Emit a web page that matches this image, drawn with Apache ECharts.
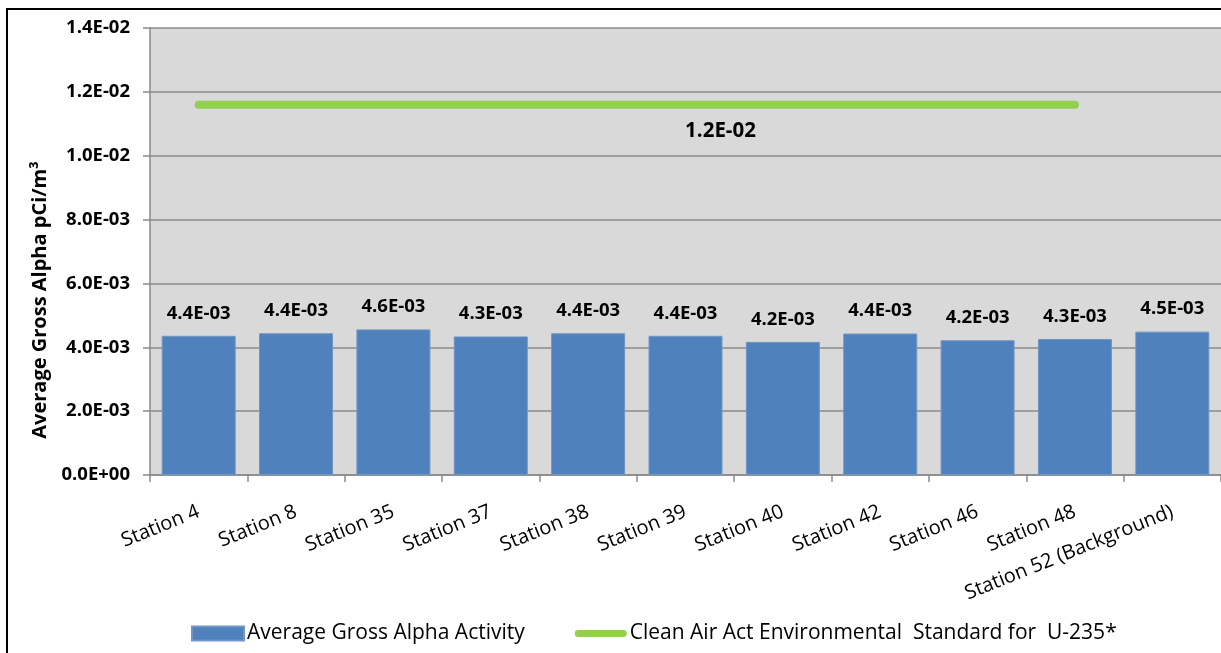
<!DOCTYPE html>
<html>
<head>
<meta charset="utf-8">
<script src="https://cdn.jsdelivr.net/npm/echarts@6/dist/echarts.min.js"></script>
<style>
html,body{margin:0;padding:0;background:#fff;}
#chart{width:1221px;height:653px;}
</style>
</head>
<body>
<div id="chart"></div>
<script>
var categories = ["Station 4","Station 8","Station 35","Station 37","Station 38","Station 39","Station 40","Station 42","Station 46","Station 48","Station 52 (Background)"];
var grossAlpha = [0.00436,0.00444,0.00456,0.00434,0.00444,0.00436,0.00417,0.00443,0.00422,0.00426,0.00449];
var cleanAirStd = [0.0116,0.0116,0.0116,0.0116,0.0116,0.0116,0.0116,0.0116,0.0116,0.0116,null];
var stdLabelText = "1.2E-02";
var seriesNames = ["Average Gross Alpha Activity","Clean Air Act Environmental  Standard for  U-235*"];
var yTitle = "Average Gross Alpha pCi/m\u00B3";

function fmt(v){
  var s = Number(v).toExponential(1);
  var parts = s.split('e');
  var sign = parts[1].charAt(0);
  var d = parts[1].slice(1);
  if (d.length < 2) d = '0' + d;
  return parts[0] + 'E' + sign + d;
}

var lineData = cleanAirStd.map(function(v, i){
  if (i === 5) {
    return {value: v, symbol: 'circle', symbolSize: 1, label: {show: true}};
  }
  return v;
});

var chart = echarts.init(document.getElementById('chart'));
chart.setOption({
  backgroundColor: '#ffffff',
  animation: false,
  grid: {left: 150, top: 28, right: 0, bottom: 178, show: true, backgroundColor: '#D9D9D9', borderWidth: 0},
  legend: {
    top: 618, left: 186, itemGap: 50, itemWidth: 52, itemHeight: 14,
    textStyle: {fontFamily: 'Open Sans', fontSize: 21, color: '#000', padding: [0, 0, 0, -2]},
    data: [
      {name: seriesNames[0], icon: 'rect'},
      {name: seriesNames[1], icon: 'path://M4,0 L56,0 A4,4 0 0 1 56,8 L4,8 A4,4 0 0 1 4,0 Z'}
    ]
  },
  graphic: [
    {type: 'rect', silent: true, shape: {x: 7, y: 9, width: 1240, height: 680},
     style: {fill: 'none', stroke: '#000', lineWidth: 2}},
    {type: 'text', x: 40, y: 300, rotation: Math.PI / 2,
     style: {text: yTitle, fontFamily: 'Open Sans', fontWeight: 'bold', fontSize: 20, fill: '#000', align: 'center', verticalAlign: 'middle'}}
  ],
  xAxis: {
    type: 'category', data: categories,
    axisLine: {lineStyle: {color: '#8a8a8a', width: 1.5}},
    axisTick: {show: true, length: 7, lineStyle: {color: '#8a8a8a', width: 1.5}},
    axisLabel: {rotate: 22, interval: 0, margin: 36, fontFamily: 'Open Sans', fontSize: 20, color: '#000'}
  },
  yAxis: {
    type: 'value', min: 0, max: 0.014, interval: 0.002,
    axisLine: {show: true, lineStyle: {color: '#8a8a8a', width: 1.5}},
    axisTick: {show: true, length: 7, lineStyle: {color: '#8a8a8a', width: 1.5}},
    splitLine: {show: true, lineStyle: {color: '#8a8a8a', width: 1.5}},
    axisLabel: {margin: 20, formatter: fmt, fontFamily: 'Open Sans', fontWeight: 'bold', fontSize: 18.5, color: '#000'}
  },
  series: [
    {
      name: seriesNames[0], type: 'bar', data: grossAlpha, barCategoryGap: '24%',
      itemStyle: {color: '#4F81BD', borderColor: '#7096c6', borderWidth: 1},
      label: {show: true, position: 'top', distance: 13, formatter: function(p){ return fmt(p.value); },
        fontFamily: 'Open Sans', fontWeight: 'bold', fontSize: 18.5, color: '#000'}
    },
    {
      name: seriesNames[1], type: 'line', data: lineData, symbol: 'none', z: 5,
      itemStyle: {color: '#92D050'},
      lineStyle: {color: '#92D050', width: 8, cap: 'round'},
      label: {show: false, position: 'bottom', offset: [35, 11],
        formatter: function(){ return stdLabelText; },
        fontFamily: 'Open Sans', fontWeight: 'bold', fontSize: 20.5, color: '#000'}
    }
  ]
});
</script>
</body>
</html>
